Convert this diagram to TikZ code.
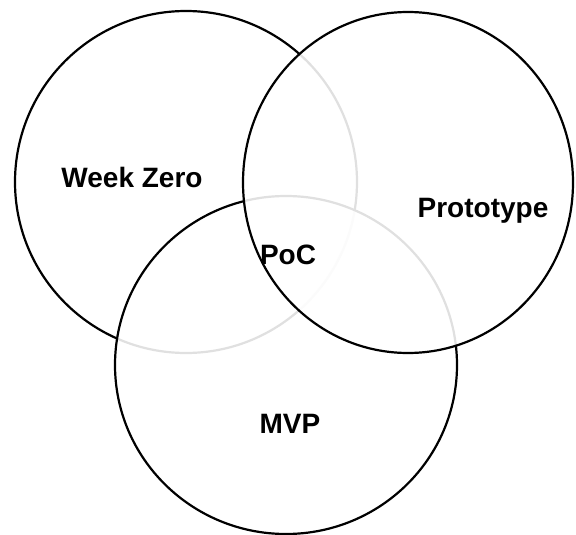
\documentclass[tikz,border=0pt]{standalone}
\usepackage{fontspec}
\setmainfont{Liberation Sans}
\usetikzlibrary{calc}
\def\sets{wz/186/182/171/171,mvp/286/365/171/169,proto/408/182.5/165/170.5}

\begin{document}
\begin{tikzpicture}[x=1pt,y=-1pt,
                      set/.style={draw,line width=2.2pt,fill=white,fill opacity=0.88},
                      lbl/.style={anchor=base,font=\bfseries\fontsize{28}{30}\selectfont}]
  \useasboundingbox (0,0) rectangle (576,535);

  % the sets, later ones wash out the rims below them
  \foreach \name/\cx/\cy/\rx/\ry in \sets {%
    \coordinate (\name) at (\cx,\cy);
    \path[set] (\name) ellipse [x radius=\rx, y radius=\ry];
  }

  \node[lbl] (wzl) at ($ (wz) + (-54,5.5) $) {Week Zero};
  \node[lbl] (protol) at ($ (proto) + (75,35) $) {Prototype};
  \node[lbl] (poc) at (288,264) {PoC};
  \node[lbl] (mvpl) at ($ (mvp) + (4,68) $) {MVP};
\end{tikzpicture}
\end{document}
